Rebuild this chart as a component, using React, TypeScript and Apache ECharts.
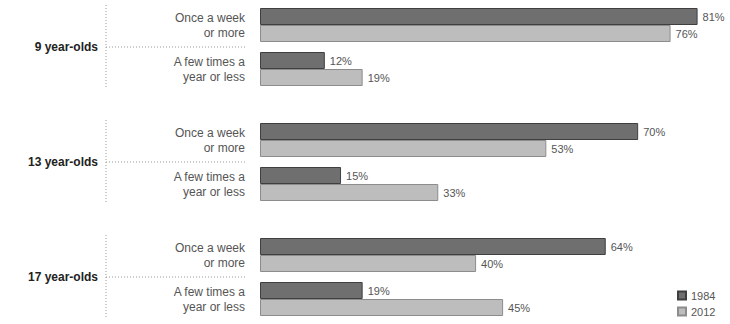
import React, { useEffect, useRef } from "react";
import * as echarts from "echarts";

const groups = ["9 year-olds", "13 year-olds", "17 year-olds"];
const frequencies = ["Once a week\nor more", "A few times a\nyear or less"];
const years = ["1984", "2012"];
// values per group: [weekly, yearly]
const values1984 = [
  [81, 12],
  [70, 15],
  [64, 19],
];
const values2012 = [
  [76, 19],
  [53, 33],
  [40, 45],
];

const gridTops = [3, 118, 233];
const GRID_H = 88;
const BAR_W = 17;

export default function App() {
  const ref = useRef<HTMLDivElement>(null);
  useEffect(() => {
    if (!ref.current) return;
    const chart = echarts.init(ref.current, null, { renderer: "svg" });
    const colors = ["#6f6f6f", "#bdbdbd"];
    const borders = ["#3f3f3f", "#8c8c8c"];
    const grids = gridTops.map((t) => ({ left: 260, right: 0, top: t, height: GRID_H }));
    const xAxes = gridTops.map((_, i) => ({
      type: "value",
      gridIndex: i,
      min: 0,
      max: 87,
      show: false,
    }));
    const yAxes = gridTops.map((_, i) => ({
      type: "category",
      gridIndex: i,
      inverse: true,
      data: frequencies,
      axisLine: { show: false },
      axisTick: { show: false },
      splitLine: { show: false },
      axisLabel: {
        align: "right",
        margin: 15,
        fontSize: 12,
        lineHeight: 15,
        color: "#555",
        fontFamily: "Liberation Sans, Arial, sans-serif",
      },
    }));
    const series: any[] = [];
    groups.forEach((g, i) => {
      [values1984, values2012].forEach((vals, k) => {
        series.push({
          type: "bar",
          name: years[k],
          xAxisIndex: i,
          yAxisIndex: i,
          data: vals[i],
          barWidth: BAR_W,
          barGap: "0%",
          itemStyle: { color: colors[k], borderColor: borders[k], borderWidth: 1 },
          label: {
            show: true,
            position: "right",
            distance: 5,
            formatter: "{c}%",
            fontSize: 11,
            color: "#555",
            fontFamily: "Liberation Sans, Arial, sans-serif",
          },
        });
      });
    });
    const graphic: any[] = [];
    gridTops.forEach((t, i) => {
      const c = t + GRID_H / 2;
      graphic.push({
        type: "text",
        x: 98,
        y: c,
        style: {
          text: groups[i],
          align: "right",
          verticalAlign: "middle",
          font: "bold 12px Liberation Sans, Arial, sans-serif",
          fill: "#222",
        },
      });
      graphic.push({
        type: "line",
        shape: { x1: 106, y1: c - 42, x2: 106, y2: c + 41 },
        style: { stroke: "#999", lineWidth: 1, lineDash: [1, 2] },
      });
      graphic.push({
        type: "line",
        shape: { x1: 106, y1: c, x2: 245, y2: c },
        style: { stroke: "#999", lineWidth: 1, lineDash: [1, 2] },
      });
    });
    chart.setOption({
      animation: false,
      grid: grids,
      xAxis: xAxes,
      yAxis: yAxes,
      series,
      graphic,
      legend: {
        data: years,
        orient: "vertical",
        left: 672,
        top: 285,
        itemWidth: 8,
        itemHeight: 8,
        itemGap: 5,
        icon: "rect",
        textStyle: { fontSize: 11, color: "#555", fontFamily: "Liberation Sans, Arial, sans-serif" },
      },
    });
    return () => chart.dispose();
  }, []);
  return (
    <div
      ref={ref}
      style={{ position: "absolute", left: 0, top: 0, width: 730, height: 324, background: "#fff" }}
    />
  );
}
